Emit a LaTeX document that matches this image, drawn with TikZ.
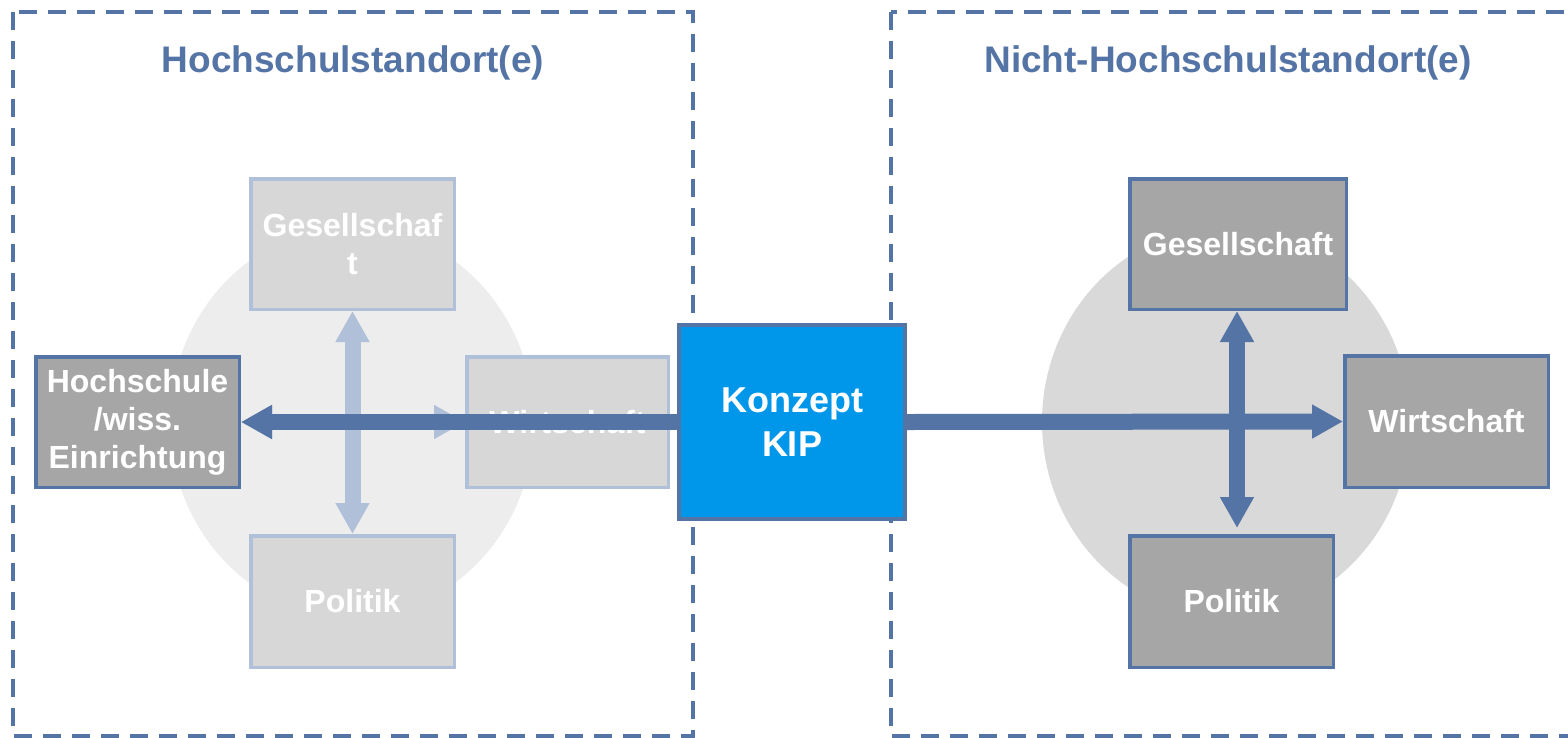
\documentclass[tikz,border=0pt]{standalone}
\usepackage{fontspec}
\setmainfont{Liberation Sans}
\usetikzlibrary{arrows.meta,calc}

\definecolor{frameblue}{HTML}{5474A6}
\definecolor{fadeblue}{HTML}{B0C0D8}
\definecolor{kipblue}{HTML}{0097EA}
\definecolor{boxgray}{HTML}{A6A6A6}
\definecolor{fadegray}{HTML}{D7D7D7}
\definecolor{haloleft}{HTML}{EDEDED}
\definecolor{haloright}{HTML}{D9D9D9}

\tikzset{
  region/.style={draw=frameblue, line width=3.2pt, dash pattern=on 18pt off 11pt},
  regiontitle/.style={text=frameblue, anchor=base, font=\fontsize{37}{44}\selectfont\bfseries},
  box/.style={rectangle, line width=3.5pt, inner sep=0pt, align=center, text=white,
              font=\fontsize{32}{38}\selectfont\bfseries},
  activebox/.style={box, fill=boxgray, draw=frameblue},
  fadedbox/.style={box, fill=fadegray, draw=fadeblue},
  kipbox/.style={box, fill=kipblue, draw=frameblue, line width=4pt,
                 font=\fontsize{36}{44}\selectfont\bfseries},
  link/.style={line width=16pt, draw=frameblue},
  fadedlink/.style={line width=16pt, draw=fadeblue},
  head/.tip={Triangle[length=31pt,width=32pt]},
}

\begin{document}
\begin{tikzpicture}[x=1pt, y=-1pt]
\useasboundingbox (0,0) rectangle (1568,737);

% dashed site frames
\draw[region] (13,12) rectangle (693,736);
\draw[region] (891,12) rectangle (1620,736);

\node[regiontitle] (titleL) at (353,72) {Hochschulstandort(e)};
\node[regiontitle] (titleR) at (1228,72) {Nicht-Hochschulstandort(e)};

% background halos
\fill[haloleft] (352,422) ellipse [x radius=182, y radius=195];
\fill[haloright] (1226,422) ellipse [x radius=184, y radius=195];

% university site (faded)
\node[fadedbox, minimum width=203.5pt, minimum height=130.5pt] (gesL) at (352.5,244) {Gesellschaf\\t};
\node[fadedbox, minimum width=203.5pt, minimum height=131.5pt] (polL) at (352.5,601.5) {Politik};
\node[fadedbox, minimum width=201.5pt, minimum height=130.5pt] (wirL) at (567.5,422) {Wirtschaft};
\node[activebox, minimum width=203.5pt, minimum height=130.5pt] (hoch) at (137.5,422) {Hochschule\\/wiss.\\Einrichtung};

% non-university site
\node[activebox, minimum width=216.5pt, minimum height=130.5pt] (gesR) at (1238,244) {Gesellschaft};
\node[activebox, minimum width=203.5pt, minimum height=131.5pt] (wirR) at (1446.5,421.5) {Wirtschaft};
\node[activebox, minimum width=203.5pt, minimum height=131.5pt] (polR) at (1231.5,601.5) {Politik};

% central concept
\node[kipbox, minimum width=226pt, minimum height=194pt] (kip) at (792,422) {Konzept\\KIP};

% faded links
\draw[fadedlink, {head}-{head}] (hoch.east) -- (wirL.west);
\draw[fadedlink, {head}-{head}] (gesL.south) -- (polL.north);

% active links
\draw[link, -{head}] (kip.west) -- (hoch.east);
\draw[link, -{head}] (kip.east) -- (wirR.west);
\draw[link, {head}-{head}, shorten >=6pt] ($(gesR.south)+(-1,0)$) -- ($(gesR.south |- polR.north)+(-1,0)$);
\end{tikzpicture}
\end{document}
